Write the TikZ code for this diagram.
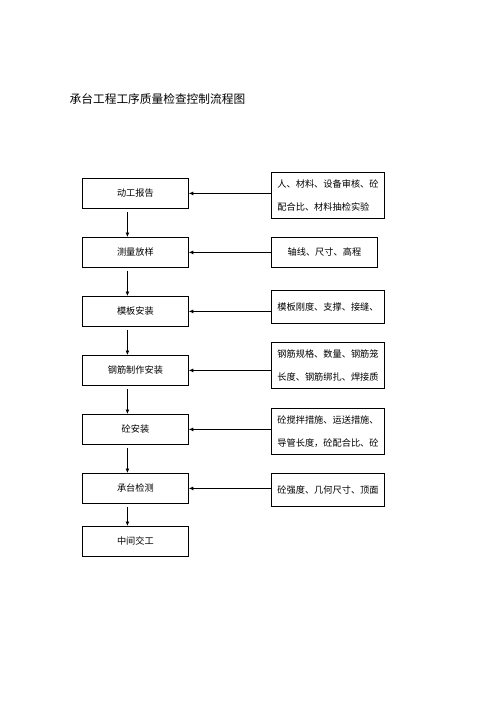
\documentclass[tikz,border=0pt]{standalone}
\usepackage{fontspec}
\newfontfamily\cjk{Noto Sans CJK SC}
\usetikzlibrary{positioning,arrows.meta}

\begin{document}
\begin{tikzpicture}[
				x=1pt, y=-1pt,
				line width=0.8pt,
				node distance=28.2pt,
				main/.style = {draw, minimum width=106pt, minimum height=30pt, inner sep=0pt, font=\cjk\fontsize{9.2}{11}\selectfont},
				check/.style = {draw, anchor=north west, text width=101pt, inner xsep=6pt, inner ysep=0pt, align=left, font=\cjk\fontsize{9.2}{23}\selectfont},
				arr/.style = {-{Latex[length=4.5pt,width=4pt]}, shorten <=3pt}
			]
			\useasboundingbox (0,0) rectangle (500,707);
			\node[anchor=west, font=\cjk\fontsize{11.7}{14}\selectfont] (title) at (66,99) {承台工程工序质量检查控制流程图};
			% left column
			\node[main, anchor=north west] (dg) at (82,178) {动工报告};
			\node[main] (cl) [below=of dg] {测量放样};
			\node[main] (mb) [below=of cl] {模板安装};
			\node[main] (gj) [below=of mb] {钢筋制作安装};
			\node[main] (tz) [below=of gj] {砼安装};
			\node[main] (jc) [below=of tz] {承台检测};
			\node[main] (jg) [below=22.2pt of jc] {中间交工};
			% right column
			\node[check, minimum height=46pt] (dgc) at (271,172) {人、材料、设备审核、砼\\配合比、材料抽检实验};
			\node[check, minimum height=30pt, text width=94pt, align=center] (clc) at (271,237) {轴线、尺寸、高程};
			\node[check, minimum height=33pt] (mbc) at (271,290) {模板刚度、支撑、接缝、};
			\node[check, minimum height=46pt] (gjc) at (271,342) {钢筋规格、数量、钢筋笼\\长度、钢筋绑扎、焊接质};
			\node[check, minimum height=46pt] (tzc) at (271,408) {砼搅拌措施、运送措施、\\导管长度，砼配合比、砼};
			\node[check, minimum height=33pt] (jcc) at (271,473) {砼强度、几何尺寸、顶面};
			\draw[arr] ([xshift=-8pt]dg.south) -- ([xshift=-8pt]cl.north);
			\draw[arr] ([xshift=-8pt]cl.south) -- ([xshift=-8pt]mb.north);
			\draw[arr] ([xshift=-8pt]mb.south) -- ([xshift=-8pt]gj.north);
			\draw[arr] ([xshift=-8pt]gj.south) -- ([xshift=-8pt]tz.north);
			\draw[arr] ([xshift=-8pt]tz.south) -- ([xshift=-8pt]jc.north);
			\draw[arr] ([xshift=-8pt]jc.south) -- ([xshift=-8pt]jg.north);
			\draw[arr, shorten <=0pt] (dgc.west |- dg) -- (dg.east);
			\draw[arr, shorten <=0pt] (clc.west |- cl) -- (cl.east);
			\draw[arr, shorten <=0pt] (mbc.west |- mb) -- (mb.east);
			\draw[arr, shorten <=0pt] (gjc.west |- gj) -- (gj.east);
			\draw[arr, shorten <=0pt] (tzc.west |- tz) -- (tz.east);
			\draw[arr, shorten <=0pt] (jcc.west |- jc) -- (jc.east);
		\end{tikzpicture}
\end{document}
